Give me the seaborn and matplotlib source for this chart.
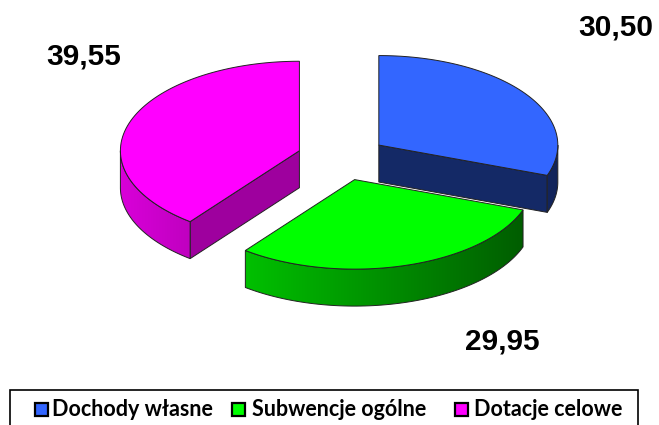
import numpy as np
import matplotlib.pyplot as plt
import seaborn as sns
from matplotlib.patches import Polygon, Rectangle
from matplotlib.colors import to_rgb

# Chart data
labels = ["Dochody własne", "Subwencje ogólne", "Dotacje celowe"]
values = [30.50, 29.95, 39.55]
value_text = ["30,50", "29,95", "39,55"]

# Styling
colors = ["#3366FF", "#00FF00", "#FF00FF"]
radial_shade = [0.40, 0.40, 0.62]
label_pos = [(616, 27), (502, 341), (84, 56)]
legend_x = [(35, 52), (232, 252), (455, 474)]

sns.set_theme(style="white")
plt.rcParams["font.family"] = ["Liberation Sans", "DejaVu Sans"]

fig = plt.figure(figsize=(6.59, 4.25), dpi=100)
ax = fig.add_axes([0, 0, 1, 1])
ax.axis("off")

# pie geometry (pixels)
cx, cy = 342, 158
R, k, depth, explode = 179, 0.5, 37, 45
edge = "#222222"


def arc(c, t0, t1, n=80, dz=0):
    t = np.radians(np.linspace(t0, t1, n))
    return np.column_stack([c[0] + R * np.sin(t), c[1] - R * k * np.cos(t) + dz])


def shade(col, f):
    return tuple(np.clip(np.array(to_rgb(col)) * f, 0, 1))


fracs = np.array(values) / sum(values) * 360
starts = np.concatenate([[0], np.cumsum(fracs)[:-1]])
ends = np.cumsum(fracs)

slices = []
for i in range(len(values)):
    mid = np.radians((starts[i] + ends[i]) / 2)
    c = (cx + explode * np.sin(mid), cy - explode * k * np.cos(mid))
    slices.append((c[1], i, c))

z = 1
for _, i, c in sorted(slices):
    ts, te, col = starts[i], ends[i], colors[i]
    c = np.array(c)
    down = np.array([0, depth])
    # radial faces
    for t, vis in [(te, np.sin(np.radians(te)) > 0.01), (ts, np.sin(np.radians(ts)) < -0.01)]:
        if vis:
            p = arc(c, t, t, n=1)[0]
            ax.add_patch(Polygon([c, p, p + down, c + down], closed=True, zorder=z,
                                 facecolor=shade(col, radial_shade[i]), edgecolor=edge, lw=0.7))
            z += 1
    # outer side with horizontal gradient
    a, b = max(ts, 90), min(te, 270)
    if a < b:
        outline = np.vstack([arc(c, a, b), arc(c, b, a, dz=depth)])
        side = Polygon(outline, closed=True, facecolor="none", edgecolor=edge, lw=0.7, zorder=z + 1)
        ax.add_patch(side)
        xs = np.linspace(c[0] - R, c[0] + R, 300)
        f = np.clip(0.6 - 0.25 * (xs - c[0]) / R, 0, 1)
        img = np.array(to_rgb(col))[None, None, :] * f[None, :, None]
        im = ax.imshow(img, extent=(c[0] - R, c[0] + R, c[1] + R, c[1] - R),
                       aspect="auto", interpolation="bilinear", zorder=z)
        im.set_clip_path(side)
        z += 2
    # top face
    top = np.vstack([c, arc(c, ts, te)])
    ax.add_patch(Polygon(top, closed=True, facecolor=col, edgecolor=edge, lw=0.7, zorder=z))
    z += 1

# value labels
for txt, (x, y) in zip(value_text, label_pos):
    ax.text(x, y, txt, ha="center", va="center", fontsize=21.5, fontweight="bold", color="black")

# legend
ax.add_patch(Rectangle((10, 390), 628, 60, facecolor="white", edgecolor="black", lw=1.2, zorder=z))
for lab, col, (sx, tx) in zip(labels, colors, legend_x):
    ax.add_patch(Rectangle((sx, 403), 13, 13, facecolor=col, edgecolor="black", lw=1.6, zorder=z + 1))
    ax.text(tx, 410, lab, ha="left", va="center", fontsize=15.5, fontweight="bold",
            family=["Lato", "DejaVu Sans"], color="black", zorder=z + 1)

ax.set_xlim(0, 659)
ax.set_ylim(425, 0)
fig.savefig("out.png", dpi=100)
